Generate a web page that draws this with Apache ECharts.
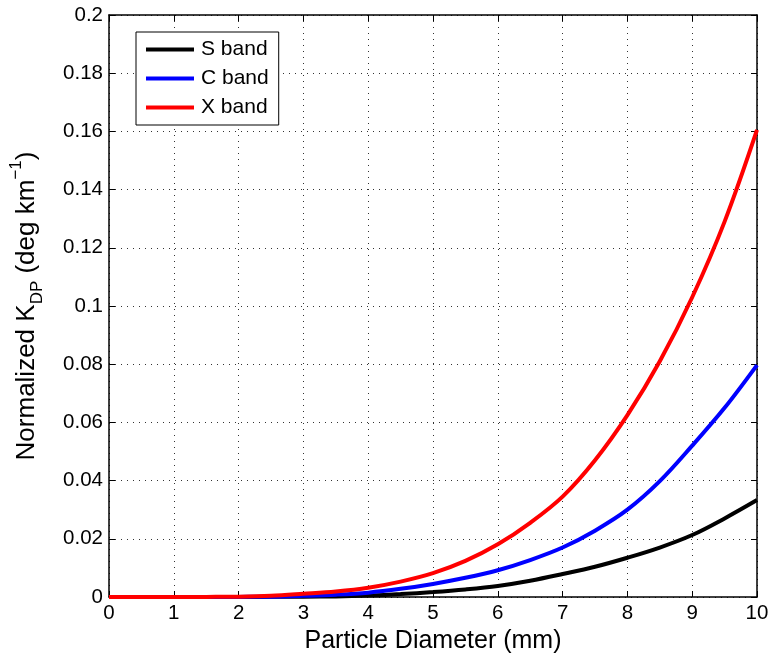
<!DOCTYPE html>
<html>
<head>
<meta charset="utf-8">
<script src="https://cdn.jsdelivr.net/npm/echarts@6/dist/echarts.min.js"></script>
<style>html,body{margin:0;padding:0;background:#fff}#c{width:773px;height:659px}</style>
</head>
<body>
<div id="c"></div>
<script>
const diameters = [0,0.5,1,1.5,2,2.5,3,3.5,4,4.5,5,5.5,6,6.5,7,7.5,8,8.5,9,9.5,10];
const sBand = [0,0,0,0.00001,0.00002,0.00005,0.0001,0.0002,0.0005,0.001,0.0017,0.0026,0.0038,0.0056,0.0079,0.0104,0.0135,0.017,0.0213,0.027,0.0333];
const cBand = [0,0,0,0.00001,0.00004,0.0001,0.0004,0.0008,0.0015,0.0028,0.0045,0.0066,0.0092,0.0127,0.0170,0.0228,0.030,0.0398,0.052,0.065,0.0797];
const xBand = [0,0,0.00001,0.00004,0.0001,0.0004,0.0011,0.0019,0.0032,0.0053,0.0082,0.0124,0.0181,0.0255,0.0345,0.047,0.0625,0.081,0.103,0.129,0.1605];
const seriesNames = ['S band','C band','X band'];
const seriesColors = ['#000000','#0000ff','#ff0000'];
const xTicks = [0,1,2,3,4,5,6,7,8,9,10];
const yTicks = [0,0.02,0.04,0.06,0.08,0.1,0.12,0.14,0.16,0.18,0.2];

const FONT = "'Liberation Sans', Arial, Helvetica, sans-serif";
const chart = echarts.init(document.getElementById('c'), null, {renderer: 'canvas'});
const pairs = arr => diameters.map((d, i) => [d, arr[i]]);
const allData = [sBand, cBand, xBand];

const gridLine = {show: true, lineStyle: {color: '#333', width: 1, type: [1, 5]}};
const option = {
  animation: false,
  backgroundColor: '#fff',
  grid: {left: 109, right: 16, top: 15, bottom: 62, containLabel: false, outerBoundsMode: 'none'},
  legend: {
    orient: 'vertical', left: 136, top: 32,
    backgroundColor: '#fff', borderColor: '#000', borderWidth: 1,
    padding: [7, 10, 7, 10], itemGap: 8, itemWidth: 48, itemHeight: 4,
    icon: 'rect',
    textStyle: {fontFamily: FONT, fontSize: 21, color: '#000', lineHeight: 20, padding: [0, 0, 0, 2]},
    data: seriesNames
  },
  xAxis: [{
    type: 'value', min: 0, max: 10, interval: 1,
    name: 'Particle Diameter (mm)', nameLocation: 'middle', nameGap: 26,
    nameTextStyle: {fontFamily: FONT, fontSize: 25, color: '#000'},
    axisLine: {show: true, onZero: false, lineStyle: {color: '#000', width: 1.5}},
    axisTick: {show: true, inside: true, length: 6, lineStyle: {color: '#000'}},
    axisLabel: {fontFamily: FONT, fontSize: 20.5, color: '#000', margin: 6,
      formatter: v => xTicks.includes(v) ? String(v) : ''},
    splitLine: gridLine
  }, {
    type: 'value', min: 0, max: 10, interval: 1, position: 'top',
    axisLine: {show: true, onZero: false, lineStyle: {color: '#000', width: 1.5}},
    axisTick: {show: true, inside: true, length: 6, lineStyle: {color: '#000'}},
    axisLabel: {show: false}, splitLine: {show: false}
  }],
  yAxis: [{
    type: 'value', min: 0, max: 0.2, interval: 0.02,
    name: '{a|Normalized K}{sub|DP}{a| (deg km}{sup|−1}{a|)}',
    nameLocation: 'middle', nameRotate: 90, nameGap: 63,
    nameTextStyle: {
      fontFamily: FONT, fontSize: 26, color: '#000',
      rich: {
        a: {fontFamily: FONT, fontSize: 26, color: '#000', lineHeight: 38, verticalAlign: 'middle'},
        sub: {fontFamily: FONT, fontSize: 17, color: '#000', lineHeight: 38, verticalAlign: 'bottom'},
        sup: {fontFamily: FONT, fontSize: 17, color: '#000', lineHeight: 38, verticalAlign: 'top'}
      }
    },
    axisLine: {show: true, onZero: false, lineStyle: {color: '#000', width: 1.5}},
    axisTick: {show: true, inside: true, length: 6, lineStyle: {color: '#000'}},
    axisLabel: {fontFamily: FONT, fontSize: 20.5, color: '#000', margin: 6,
      formatter: v => String(parseFloat(v.toFixed(2)))},
    splitLine: gridLine
  }, {
    type: 'value', min: 0, max: 0.2, interval: 0.02, position: 'right',
    axisLine: {show: true, onZero: false, lineStyle: {color: '#000', width: 1.5}},
    axisTick: {show: true, inside: true, length: 6, lineStyle: {color: '#000'}},
    axisLabel: {show: false}, splitLine: {show: false}
  }],
  series: seriesNames.map((n, i) => ({
    name: n, type: 'line', xAxisIndex: 0, yAxisIndex: 0,
    data: pairs(allData[i]), smooth: 0.35, symbol: 'none',
    lineStyle: {color: seriesColors[i], width: 4},
    itemStyle: {color: seriesColors[i]}
  }))
};
chart.setOption(option);
</script>
</body>
</html>
